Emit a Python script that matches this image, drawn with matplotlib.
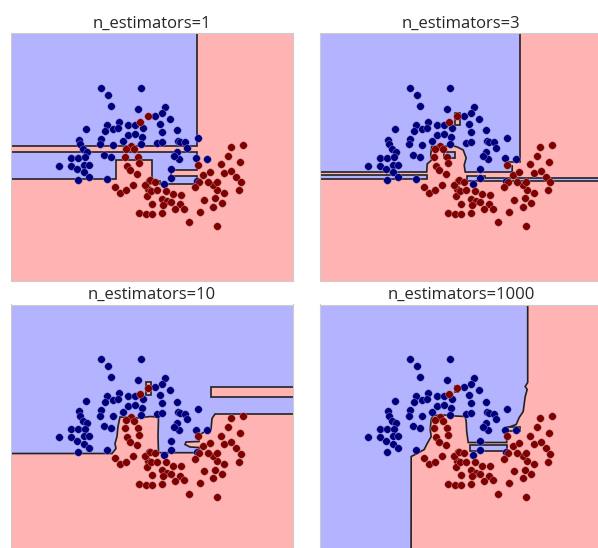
import matplotlib
matplotlib.use("Agg")
import matplotlib.pyplot as plt
import numpy as np

# colours of the two classes (regions are bwr at alpha 0.3, points are seismic ends)
BLUE_BG = "#b3b3ff"
RED_BG = "#ffb3b3"
BLUE_PT = "#00007f"
RED_PT = "#7f0000"
LINE = "#222222"

# sample points (x, y) in the panel's own units, y grows downward
blue_pts = [
    (100.5, 87.5), (141, 87.5), (108, 94.7), (111, 106), (138.3, 108.7), (165, 107),
    (161.7, 112.7), (155, 115.5), (169.5, 118.5), (119, 121.5), (127.7, 124.5),
    (134.7, 124.5), (143, 127.7), (106.5, 125), (105, 130.5), (112.5, 129),
    (117.7, 127.7), (86, 129.3), (159.7, 124), (162.3, 131.7), (176.7, 130.3),
    (127.7, 135), (142, 137), (134.7, 134), (123.3, 141), (101, 139), (113.3, 145),
    (100, 144.3), (79.3, 140), (80, 144.3), (83.3, 149.3), (87.3, 152), (71, 157.5),
    (77.7, 157.5), (85, 157.3), (104, 154.5), (110.7, 157), (141.3, 143.7),
    (157.3, 142.7), (162.3, 141.7), (177.7, 141), (180.3, 142), (185, 142.3),
    (187.3, 147.7), (197.7, 138), (176.7, 151.7), (179.3, 158.7), (173.7, 155.7),
    (196, 158.3), (207, 159), (59.3, 165.5), (71, 165.7), (84.3, 165), (89, 165),
    (76.7, 169.3), (84.3, 172.3), (88.7, 177), (77.7, 180.3), (106.7, 178.7),
    (171, 169.3), (170.7, 178.3), (164.3, 184), (197.3, 181),
]
red_pts = [
    (148, 116.3), (139.7, 122.3), (131, 146), (126, 149), (134.3, 149.3), (125.3, 156.7),
    (138, 157), (127.3, 165.7), (138.7, 163.3), (130, 170.3), (137.3, 173.7),
    (149.3, 181), (115, 186.7), (120, 193), (126, 190.3), (133, 184.7), (147.7, 189.3),
    (145.3, 185), (146.7, 196), (138.7, 213), (146, 214), (150, 180.3), (155.3, 182),
    (151, 190.7), (157, 190.3), (173.3, 194.3), (181.3, 194.7), (161.7, 199),
    (167.3, 201.3), (171, 202.3), (152.3, 204), (162.7, 204.7), (180.3, 204.3),
    (175.3, 209.3), (183.7, 208.7), (162.3, 212.7), (152.3, 214), (189, 222.3),
    (217.2, 226), (199.5, 212), (204.3, 200), (213.3, 206.7), (222, 202.7),
    (224.3, 192.7), (215.3, 198.3), (217.3, 189.7), (213.3, 185), (217, 181.5),
    (207.5, 181.7), (199, 182), (195, 187.3), (203.3, 175), (210, 172), (197.7, 164.5),
    (221, 164.2), (224.3, 173), (231.3, 170.5), (236.3, 176.5), (241, 182.3),
    (239, 190.2), (239.5, 162), (228, 155.5), (230.5, 146.5), (243, 144.7), (165.5, 191),
]

titles = ["n_estimators=1", "n_estimators=3", "n_estimators=10", "n_estimators=1000"]

# decision regions; the background of every panel is the red class
blue_regions = [
    [  # n_estimators=1
        [(-50, -50), (196.7, -50), (196.7, 146), (-50, 146)],
        [(-50, 152), (196.7, 152), (196.7, 169.7), (170.7, 169.7), (170.7, 175.7),
         (196.7, 175.7), (196.7, 183.5), (160, 183.5), (160, 180.5), (152.3, 180.5),
         (152.3, 159.7), (116, 159.7), (116, 178.5), (-50, 178.5)],
    ],
    [  # n_estimators=3
        [(-50, -50), (210.8, -50), (210.8, 162), (198, 162), (198, 166), (203, 166),
         (203, 172), (156, 172), (155, 165), (157, 158), (154, 150), (148, 147),
         (144.5, 146), (122.5, 146.5), (121.5, 155), (122.5, 160), (118, 164),
         (117.5, 172), (-50, 172)],
        [(-50, 174.7), (117.5, 174.7), (117.5, 179.3), (-50, 179.3)],
        [(157.5, 175.5), (176, 175.5), (176, 178.4), (350, 178.4), (350, 180.6),
         (157.5, 180.6)],
        [(134.8, 151.7), (145.8, 151.7), (145.8, 158.3), (134.8, 158.3)],
    ],
    [  # n_estimators=10
        [(-50, -50), (350, -50), (350, 142.5), (215, 142.5), (212, 147), (211, 158),
         (205, 160), (200, 163), (199, 170), (186, 170.5), (185, 173), (190, 175.5),
         (199, 176), (199, 181.2), (158.5, 181.2), (158, 165), (158.5, 145.5),
         (150, 145), (138, 146.5), (120, 145.5), (118, 155), (117, 165), (115, 172),
         (116, 177), (112, 182), (-50, 182)],
    ],
    [  # n_estimators=1000
        [(-50, -50), (218.5, -50), (218.5, 111), (216, 115), (218, 118), (216, 125),
         (214, 140), (210, 146), (207, 153), (200, 155.5), (197.5, 158), (197.5, 171),
         (159, 171), (157.5, 160), (157, 150), (156, 145), (146, 144.5), (135, 143.5),
         (124, 144), (122, 148), (121, 158), (122, 165), (118, 172), (115, 178),
         (108, 182), (102, 185), (101.8, 350), (-50, 350)],
        [(161, 173.5), (197.5, 173.5), (197.5, 180), (161, 180)],
    ],
]
red_regions = [
    [],
    [[(145.8, 112.7), (150.8, 112.7), (150.8, 125), (145.8, 125)]],
    [[(210.7, 115.8), (350, 115.8), (350, 125.2), (210.7, 125.2)],
     [(146, 111), (150.7, 111), (150.7, 123.5), (146, 123.5)]],
    [[(197.5, 155.5), (211, 155.5), (211, 160), (197.5, 160)],
     [(146, 115), (149, 115), (149, 121), (146, 121)]],
]

# panel placement in pixels: left, top of each axes box
panel_px = [(11, 33), (320.2, 33), (11, 304.5), (320.2, 304.5)]
W, H = 598, 548
AX_W, AX_H = 282, 248

fig = plt.figure(figsize=(W / 100, H / 100), dpi=100)
bx, by = zip(*blue_pts)
rx, ry = zip(*red_pts)

for i, (left, top) in enumerate(panel_px):
    ax = fig.add_axes([left / W, (H - top - AX_H) / H, AX_W / W, AX_H / H])
    ax.set_facecolor(RED_BG)
    for poly in blue_regions[i]:
        xs, ys = zip(*poly)
        ax.fill(xs, ys, facecolor=BLUE_BG, edgecolor=LINE, lw=1.2, alpha=1)
    for poly in red_regions[i]:
        xs, ys = zip(*poly)
        ax.fill(xs, ys, facecolor=RED_BG, edgecolor=LINE, lw=1.2)
    ax.scatter(bx, by, s=30, c=BLUE_PT, edgecolors="#9999cc", linewidths=0.3, zorder=3)
    ax.scatter(rx, ry, s=30, c=RED_PT, edgecolors="#cc9999", linewidths=0.3, zorder=3)
    ax.set_xlim(11, 11 + AX_W)
    ax.set_ylim(33 + AX_H, 33)
    ax.set_xticks([])
    ax.set_yticks([])
    for sp in ax.spines.values():
        sp.set_color("#cccccc")
    ax.set_title(titles[i], fontsize=12, family="Open Sans", color="#262626", pad=4)

fig.savefig("out.png", dpi=100)
